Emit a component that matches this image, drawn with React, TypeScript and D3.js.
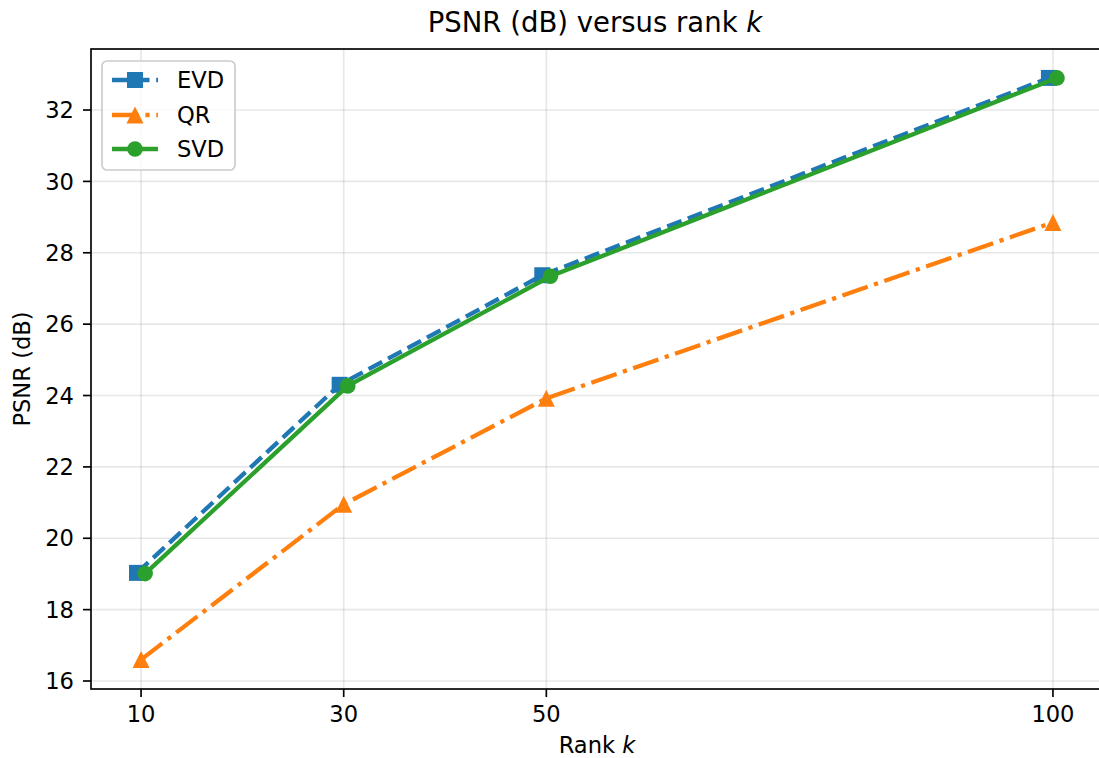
import React from "react";
import * as d3 from "d3";

const ranks = [10, 30, 50, 100];
const evd = [19.03, 24.3, 27.37, 32.9];
const qr = [16.6, 20.95, 23.92, 28.85];
const svd = [19.01, 24.27, 27.34, 32.9];
const xTicks = [10, 30, 50, 100];
const yTicks = [16, 18, 20, 22, 24, 26, 28, 30, 32];
const offsetEVD = -0.4;
const offsetSVD = 0.4;

const W = 1099;
const H = 758;
const L = 91, R = 1103, T = 49, B = 689;
const FONT = "DejaVu Sans, sans-serif";
const FS = 22.6;

export default function App() {
  const x = d3.scaleLinear().domain([5.06, 104.94]).range([L, R]);
  const y = d3.scaleLinear().domain([15.776, 33.71]).range([B, T]);
  const lw = 4.3;

  const mk = (off: number, vals: number[]) =>
    d3.line<number>().x((_, i) => x(ranks[i] + off)).y((v) => y(v))(vals) || "";

  const square = (cx: number, cy: number, c: string, k: string) => (
    <rect key={k} x={cx - 8} y={cy - 8} width={16} height={16} fill={c} />
  );
  const tri = (cx: number, cy: number, c: string, k: string) => (
    <path key={k} d={`M${cx},${cy - 8.5} L${cx - 8.5},${cy + 8.5} L${cx + 8.5},${cy + 8.5} Z`} fill={c} />
  );
  const circ = (cx: number, cy: number, c: string, k: string) => (
    <circle key={k} cx={cx} cy={cy} r={7.8} fill={c} />
  );

  const blue = "#1f77b4", orange = "#ff7f0e", green = "#2ca02c";
  const dash = "15.4 6.7";
  const dashdot = "26.7 6.7 4.2 6.7";

  return (
    <svg width={W} height={H} style={{ position: "absolute", left: 0, top: 0, background: "#fff" }} fontFamily={FONT}>
      <rect x={0} y={0} width={W} height={H} fill="#fff" />
      <defs>
        <clipPath id="clip">
          <rect x={L} y={T} width={R - L} height={B - T} />
        </clipPath>
      </defs>
      {/* grid */}
      {xTicks.map((t) => (
        <line key={"gx" + t} x1={x(t)} x2={x(t)} y1={T} y2={B} stroke="#b0b0b0" strokeOpacity={0.3} strokeWidth={1.67} />
      ))}
      {yTicks.map((t) => (
        <line key={"gy" + t} x1={L} x2={R} y1={y(t)} y2={y(t)} stroke="#b0b0b0" strokeOpacity={0.3} strokeWidth={1.67} />
      ))}
      <g clipPath="url(#clip)">
        <path d={mk(offsetEVD, evd)} fill="none" stroke={blue} strokeWidth={lw} strokeDasharray={dash} />
        {evd.map((v, i) => square(x(ranks[i] + offsetEVD), y(v), blue, "e" + i))}
        <path d={mk(0, qr)} fill="none" stroke={orange} strokeWidth={lw} strokeDasharray={dashdot} />
        {qr.map((v, i) => tri(x(ranks[i]), y(v), orange, "q" + i))}
        <path d={mk(offsetSVD, svd)} fill="none" stroke={green} strokeWidth={lw} />
        {svd.map((v, i) => circ(x(ranks[i] + offsetSVD), y(v), green, "s" + i))}
      </g>
      {/* spines */}
      <rect x={L} y={T} width={R - L} height={B - T} fill="none" stroke="#000" strokeWidth={1.67} />
      {/* ticks */}
      {xTicks.map((t) => (
        <g key={"xt" + t}>
          <line x1={x(t)} x2={x(t)} y1={B} y2={B + 8} stroke="#000" strokeWidth={1.67} />
          <text x={x(t)} y={B + 15.5} dy="0.76em" textAnchor="middle" fontSize={FS}>{t}</text>
        </g>
      ))}
      {yTicks.map((t) => (
        <g key={"yt" + t}>
          <line x1={L - 8} x2={L} y1={y(t)} y2={y(t)} stroke="#000" strokeWidth={1.67} />
          <text x={L - 17} y={y(t)} dy="0.36em" textAnchor="end" fontSize={FS}>{t}</text>
        </g>
      ))}
      {/* labels */}
      <text x={(L + R) / 2 - 2} y={32} textAnchor="middle" fontSize={27.5}>
        PSNR (dB) versus rank <tspan fontStyle="italic">k</tspan>
      </text>
      <text x={(L + R) / 2} y={753} textAnchor="middle" fontSize={FS}>
        Rank <tspan fontStyle="italic">k</tspan>
      </text>
      <text transform={`translate(30,${(T + B) / 2}) rotate(-90)`} textAnchor="middle" fontSize={FS}>
        PSNR (dB)
      </text>
      {/* legend */}
      <g>
        <rect x={102} y={61} width={133} height={109} rx={5} fill="#fff" fillOpacity={0.8} stroke="#cccccc" strokeWidth={1.67} />
        <line x1={112} x2={158} y1={80} y2={80} stroke={blue} strokeWidth={lw} strokeDasharray={dash} />
        {square(135, 80, blue, "le")}
        <text x={177} y={80} dy="0.36em" fontSize={FS}>EVD</text>
        <line x1={112} x2={158} y1={115} y2={115} stroke={orange} strokeWidth={lw} strokeDasharray={dashdot} />
        {tri(135, 115, orange, "lq")}
        <text x={177} y={115} dy="0.36em" fontSize={FS}>QR</text>
        <line x1={112} x2={158} y1={149} y2={149} stroke={green} strokeWidth={lw} />
        {circ(135, 149, green, "ls")}
        <text x={177} y={149} dy="0.36em" fontSize={FS}>SVD</text>
      </g>
    </svg>
  );
}
